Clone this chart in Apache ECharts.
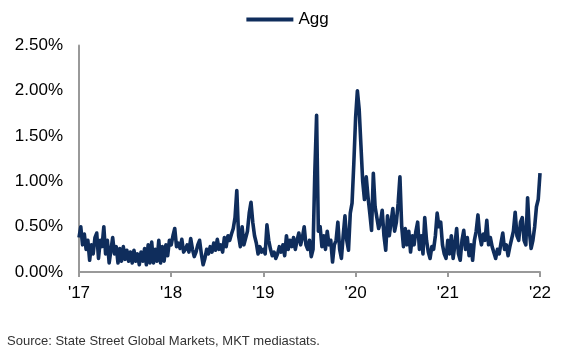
<!DOCTYPE html>
<html><head><meta charset="utf-8">
<script src="https://cdn.jsdelivr.net/npm/echarts@6/dist/echarts.min.js"></script>
<style>html,body{margin:0;padding:0;background:#fff}#c{width:575px;height:352px}</style>
</head><body><div id="c"></div>
<script>
// Weekly values (%), one array per year, starting at 1 January
const v2017 = [0.38,0.50,0.30,0.42,0.25,0.35,0.13,0.30,0.20,0.38,0.43,0.15,0.35,0.28,0.50,0.20,0.35,0.10,0.08,0.38,0.20,0.28,0.10,0.26,0.12,0.28,0.14,0.24,0.12,0.22,0.10,0.24,0.12,0.20,0.08,0.22,0.12,0.26,0.08,0.30,0.10,0.33,0.10,0.25,0.12,0.35,0.10,0.28,0.12,0.30,0.18,0.35];
const v2018 = [0.30,0.40,0.48,0.28,0.32,0.26,0.36,0.22,0.25,0.30,0.22,0.37,0.25,0.17,0.22,0.30,0.35,0.20,0.08,0.15,0.25,0.20,0.28,0.22,0.32,0.24,0.36,0.25,0.30,0.22,0.38,0.28,0.40,0.35,0.42,0.48,0.60,0.90,0.40,0.28,0.50,0.30,0.30,0.45,0.65,0.77,0.55,0.40,0.32,0.20,0.28,0.22];
const v2019 = [0.25,0.20,0.52,0.35,0.25,0.18,0.22,0.15,0.20,0.28,0.22,0.30,0.18,0.40,0.25,0.35,0.28,0.38,0.25,0.35,0.43,0.30,0.38,0.50,0.30,0.25,0.35,0.17,0.25,1.10,1.73,0.45,0.50,0.28,0.40,0.25,0.45,0.30,0.35,0.11,0.30,0.35,0.55,0.25,0.15,0.40,0.62,0.35,0.24,0.65,0.76,1.20];
const v2020 = [1.70,2.00,1.80,1.40,1.00,0.80,1.05,0.83,0.65,0.46,1.09,0.72,0.60,0.48,0.55,0.68,0.40,0.24,0.62,0.40,0.55,0.70,0.45,0.55,0.76,1.05,0.50,0.28,0.48,0.30,0.45,0.22,0.40,0.30,0.45,0.55,0.25,0.40,0.20,0.60,0.35,0.22,0.15,0.28,0.25,0.40,0.65,0.50,0.55,0.30,0.20,0.15];
const v2021 = [0.35,0.20,0.40,0.15,0.30,0.48,0.20,0.13,0.35,0.46,0.25,0.38,0.18,0.30,0.13,0.35,0.45,0.63,0.40,0.30,0.42,0.35,0.57,0.30,0.38,0.28,0.30,0.15,0.25,0.20,0.32,0.43,0.25,0.30,0.18,0.28,0.30,0.45,0.66,0.40,0.35,0.55,0.60,0.35,0.30,0.82,0.45,0.26,0.35,0.50,0.72,0.80,1.09];
const years = [2017,2018,2019,2020,2021];
const yearValues = [v2017,v2018,v2019,v2020,v2021];
const yTicks = [0,0.5,1,1.5,2,2.5];
const xTicks = ["'17","'18","'19","'20","'21","'22"];
const seriesName = 'Agg';
const sourceText = 'Source: State Street Global Markets, MKT mediastats.';

const data = [];
years.forEach((yr, k) => {
  yearValues[k].forEach((v, i) => { data.push([yr + i / 52, v]); });
});

const FONT = "'Liberation Sans', Arial, sans-serif";
const chart = echarts.init(document.getElementById('c'), null, {renderer: 'canvas'});
chart.setOption({
  animation: false,
  backgroundColor: '#fff',
  textStyle: {fontFamily: FONT},
  title: {
    text: sourceText, left: 2, top: 330,
    textStyle: {fontSize: 13, fontWeight: 'normal', color: '#333', fontFamily: FONT}
  },
  legend: {
    data: [seriesName], top: 6, left: 'center',
    icon: 'rect', itemWidth: 47, itemHeight: 4, itemGap: 5,
    textStyle: {fontSize: 17, color: '#000', fontFamily: FONT}
  },
  grid: {left: 79, right: 35, top: 45.5, bottom: 80},
  xAxis: {
    type: 'value', min: 2017, max: 2022, interval: 1,
    axisLine: {show: true, lineStyle: {color: '#999', width: 2}},
    axisTick: {show: true, length: 5, lineStyle: {color: '#999', width: 2}},
    splitLine: {show: false},
    axisLabel: {
      margin: 13, fontSize: 17, color: '#000', fontFamily: FONT,
      formatter: v => xTicks[Math.round(v) - 2017]
    }
  },
  yAxis: {
    type: 'value', min: yTicks[0], max: yTicks[yTicks.length - 1], interval: 0.5,
    axisLine: {show: true, lineStyle: {color: '#999', width: 2}},
    axisTick: {show: false},
    splitLine: {show: false},
    axisLabel: {
      margin: 16, fontSize: 17, color: '#000', fontFamily: FONT,
      formatter: v => v.toFixed(2) + '%'
    }
  },
  series: [{
    name: seriesName, type: 'line', data: data, symbol: 'none',
    lineStyle: {color: '#0f2d5c', width: 3.6, join: 'round'}, itemStyle: {color: '#0f2d5c'}
  }]
});
</script></body></html>
